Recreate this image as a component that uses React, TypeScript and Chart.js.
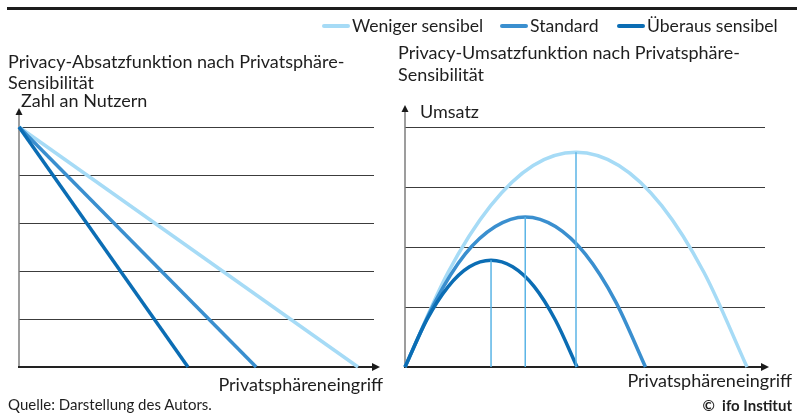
import React, { useEffect, useRef } from "react";
import { Chart, registerables } from "chart.js";

Chart.register(...registerables);

// ---- data ----
const seriesNames = ["Weniger sensibel", "Standard", "Überaus sensibel"];
const seriesColors = ["#a6dbf6", "#3a8fcf", "#0b6db4"];
const peakLineColor = "#5bb5e6";

// left panel: Zahl an Nutzern vs. Privatsphäreneingriff
const demandWeniger = [{ x: 0, y: 5 }, { x: 9.55, y: 0 }];
const demandStandard = [{ x: 0, y: 5 }, { x: 6.68, y: 0 }];
const demandUeberaus = [{ x: 0, y: 5 }, { x: 4.76, y: 0 }];

// right panel: Umsatz vs. Privatsphäreneingriff
const revenueX_Weniger = [0, 1.19, 2.38, 3.56, 4.75, 5.94, 7.13, 8.31, 9.5];
const revenueY_Weniger = [0, 1.57, 2.69, 3.36, 3.58, 3.36, 2.69, 1.57, 0];
const revenueX_Standard = [0, 0.84, 1.67, 2.51, 3.34, 4.18, 5.01, 5.85, 6.68];
const revenueY_Standard = [0, 1.09, 1.88, 2.34, 2.5, 2.34, 1.88, 1.09, 0];
const revenueX_Ueberaus = [0, 0.6, 1.2, 1.79, 2.39, 2.99, 3.59, 4.18, 4.78];
const revenueY_Ueberaus = [0, 0.78, 1.34, 1.67, 1.78, 1.67, 1.34, 0.78, 0];

// revenue maxima (x, y)
const peakWeniger = { x: 4.75, y: 3.58 };
const peakStandard = { x: 3.34, y: 2.5 };
const peakUeberaus = { x: 2.39, y: 1.78 };

const FONT = "Lato, 'Noto Sans', sans-serif";
const TEXT = "#1e1e1e";

const zip = (xs: number[], ys: number[]) => xs.map((x, i) => ({ x, y: ys[i] }));

const arrowAxes = (yExt: number, xExt: number) => ({
  id: "arrowAxes",
  beforeDatasetsDraw(chart: any) {
    const { ctx, chartArea } = chart;
    const { left, right, top, bottom } = chartArea;
    ctx.save();
    // y axis
    ctx.strokeStyle = "#7d7d7d";
    ctx.lineWidth = 1.5;
    ctx.beginPath();
    ctx.moveTo(left, bottom);
    ctx.lineTo(left, top - yExt + 6);
    ctx.stroke();
    ctx.fillStyle = "#1a1a1a";
    ctx.beginPath();
    ctx.moveTo(left, top - yExt);
    ctx.lineTo(left - 3.5, top - yExt + 7);
    ctx.lineTo(left + 3.5, top - yExt + 7);
    ctx.closePath();
    ctx.fill();
    // x axis
    ctx.strokeStyle = "#222";
    ctx.lineWidth = 2;
    ctx.beginPath();
    ctx.moveTo(left - 1, bottom);
    ctx.lineTo(right + xExt - 7, bottom);
    ctx.stroke();
    ctx.beginPath();
    ctx.moveTo(right + xExt, bottom);
    ctx.lineTo(right + xExt - 8, bottom - 4);
    ctx.lineTo(right + xExt - 8, bottom + 4);
    ctx.closePath();
    ctx.fill();
    ctx.restore();
  },
});

const baseScales = (yMax: number) => ({
  x: {
    type: "linear" as const,
    min: 0,
    max: 10,
    grid: { display: false },
    ticks: { display: false },
    border: { display: false },
    afterFit: (s: any) => {
      s.height = 0;
    },
  },
  y: {
    type: "linear" as const,
    min: 0,
    max: yMax,
    ticks: { display: false, stepSize: 1 },
    grid: { color: "#3c3c3c", lineWidth: 1, drawTicks: false },
    border: { display: false },
    afterFit: (s: any) => {
      s.width = 0;
    },
  },
});

const lineDs = (label: string, data: any[], color: string, order: number, width = 3.5) => ({
  label,
  data,
  showLine: true,
  borderColor: color,
  backgroundColor: color,
  borderWidth: width,
  pointRadius: 0,
  pointHoverRadius: 0,
  fill: false,
  clip: false as const,
  order,
});

function LeftChart() {
  const ref = useRef<HTMLCanvasElement>(null);
  useEffect(() => {
    if (!ref.current) return;
    const chart = new Chart(ref.current, {
      type: "scatter",
      data: {
        datasets: [
          lineDs(seriesNames[0], demandWeniger, seriesColors[0], 3),
          lineDs(seriesNames[1], demandStandard, seriesColors[1], 2),
          lineDs(seriesNames[2], demandUeberaus, seriesColors[2], 1),
        ],
      },
      options: {
        responsive: false,
        animation: false,
        layout: { padding: { left: 19, top: 127, right: 26, bottom: 47 } },
        scales: baseScales(5),
        plugins: { legend: { display: false }, tooltip: { enabled: false }, title: { display: false } },
        events: [],
      },
      plugins: [arrowAxes(19, 6)],
    });
    return () => chart.destroy();
  }, []);
  return (
    <canvas
      ref={ref}
      width={400}
      height={414}
      style={{ position: "absolute", left: 0, top: 0, width: 400, height: 414 }}
    />
  );
}

function RightChart() {
  const ref = useRef<HTMLCanvasElement>(null);
  useEffect(() => {
    if (!ref.current) return;
    const chart = new Chart(ref.current, {
      type: "scatter",
      data: {
        datasets: [
          lineDs(seriesNames[0], zip(revenueX_Weniger, revenueY_Weniger), seriesColors[0], 3),
          lineDs(seriesNames[1], zip(revenueX_Standard, revenueY_Standard), seriesColors[1], 2),
          lineDs(seriesNames[2], zip(revenueX_Ueberaus, revenueY_Ueberaus), seriesColors[2], 1),
          lineDs("Max " + seriesNames[0], [{ x: peakWeniger.x, y: 0 }, peakWeniger], peakLineColor, 0, 1.5),
          lineDs("Max " + seriesNames[1], [{ x: peakStandard.x, y: 0 }, peakStandard], peakLineColor, 0, 1.5),
          lineDs("Max " + seriesNames[2], [{ x: peakUeberaus.x, y: 0 }, peakUeberaus], peakLineColor, 0, 1.5),
        ].map((d, i) => (i < 3 ? { ...d, cubicInterpolationMode: "monotone" as const } : d)),
      },
      options: {
        responsive: false,
        animation: false,
        layout: { padding: { left: 5, top: 127, right: 38, bottom: 47 } },
        scales: baseScales(4),
        plugins: { legend: { display: false }, tooltip: { enabled: false }, title: { display: false } },
        events: [],
      },
      plugins: [arrowAxes(22, 4)],
    });
    return () => chart.destroy();
  }, []);
  return (
    <canvas
      ref={ref}
      width={403}
      height={414}
      style={{ position: "absolute", left: 400, top: 0, width: 403, height: 414 }}
    />
  );
}

const legendLefts = [322, 500, 617];

export default function App() {
  const txt = (extra: React.CSSProperties): React.CSSProperties => ({
    position: "absolute",
    fontFamily: FONT,
    color: TEXT,
    whiteSpace: "nowrap",
    zIndex: 2,
    ...extra,
  });
  return (
    <div
      style={{
        position: "absolute",
        left: 0,
        top: 0,
        width: 803,
        height: 414,
        background: "#fff",
        overflow: "hidden",
      }}
    >
      <div style={{ position: "absolute", left: 7, top: 7, width: 790, height: 3, background: "#1d1d1d" }} />
      {seriesNames.map((n, i) => (
        <div key={n} style={txt({ left: legendLefts[i], top: 15, height: 22, lineHeight: "22px", fontSize: 17.6, display: "flex", alignItems: "center" })}>
          <span
            style={{
              display: "inline-block",
              width: 28,
              height: 4,
              borderRadius: 2,
              background: seriesColors[i],
              marginRight: 2,
            }}
          />
          <span>{n}</span>
        </div>
      ))}
      <div style={txt({ left: 8, top: 51, lineHeight: "21px", fontSize: 18 })}>
        Privacy-Absatzfunktion nach Privatsphäre-
        <br />
        Sensibilität
      </div>
      <div style={txt({ left: 21, top: 90, lineHeight: "21px", fontSize: 18 })}>Zahl an Nutzern</div>
      <div style={txt({ left: 398, top: 41, lineHeight: "22px", fontSize: 18 })}>
        Privacy-Umsatzfunktion nach Privatsphäre-
        <br />
        Sensibilität
      </div>
      <div style={txt({ left: 420, top: 101, lineHeight: "21px", fontSize: 18 })}>Umsatz</div>
      <div style={txt({ right: 803 - 383, top: 374, lineHeight: "21px", fontSize: 18 })}>Privatsphäreneingriff</div>
      <div style={txt({ right: 803 - 792, top: 370, lineHeight: "21px", fontSize: 18 })}>Privatsphäreneingriff</div>
      <div style={txt({ left: 8, top: 396, lineHeight: "16px", fontSize: 15 })}>Quelle: Darstellung des Autors.</div>
      <div style={txt({ right: 803 - 792, top: 397, lineHeight: "16px", fontSize: 15, fontWeight: 700 })}>©&nbsp;&nbsp;ifo Institut</div>
      <LeftChart />
      <RightChart />
    </div>
  );
}
